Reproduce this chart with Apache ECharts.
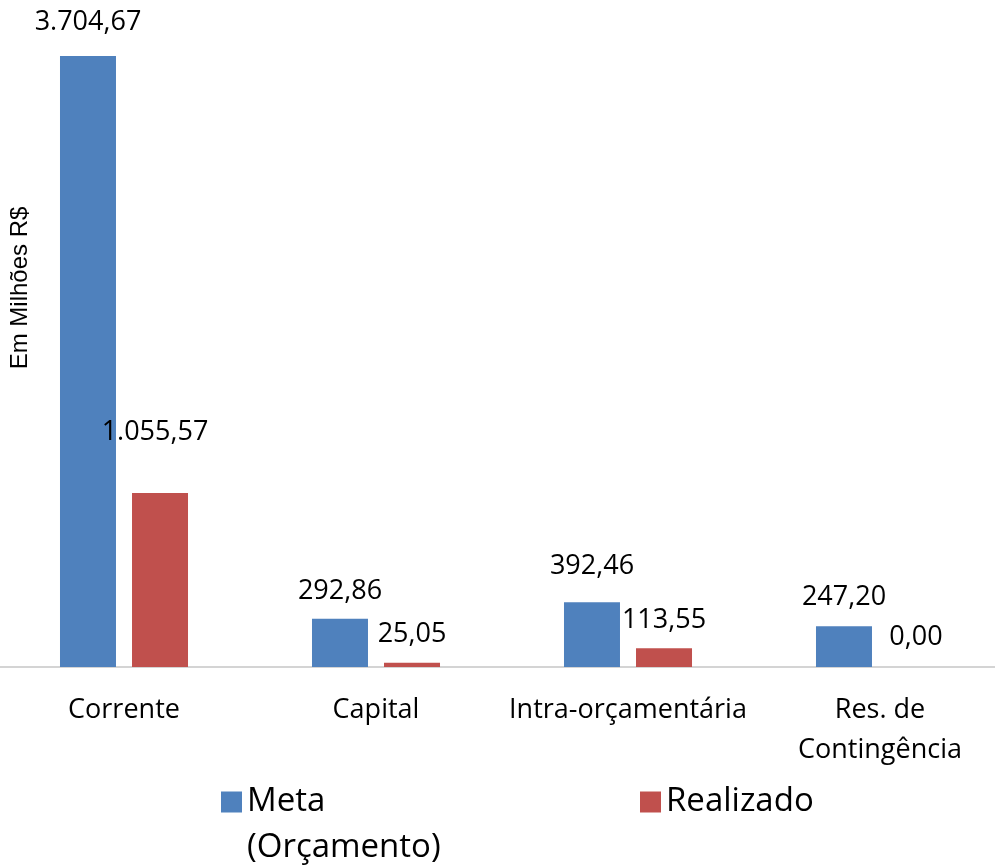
<!DOCTYPE html>
<html>
<head>
<meta charset="utf-8">
<script src="https://cdn.jsdelivr.net/npm/echarts@6/dist/echarts.min.js"></script>
<style>
  html, body { margin: 0; padding: 0; background: #fff; }
  #chart { width: 995px; height: 865px; }
</style>
</head>
<body>
<div id="chart"></div>
<script>
const categories = ['Corrente', 'Capital', 'Intra-orçamentária', 'Res. de\nContingência'];
const metaValues = [3704.67, 292.86, 392.46, 247.20];
const realizadoValues = [1055.57, 25.05, 113.55, 0.00];
const seriesNames = ['Meta\n(Orçamento)', 'Realizado'];

// distancia dos rotulos (o Excel deixou alguns deslocados)
const metaLabelDist = [20, 14, 22, 15];
const realLabelDist = [47, 15, 14, 16];

const fmt = v => v.toLocaleString('pt-BR', { minimumFractionDigits: 2, maximumFractionDigits: 2 });

const labelFont = { fontFamily: 'Open Sans', fontSize: 27, color: '#000' };

function buildData(values, dists, dx) {
  return values.map((v, i) => ({
    value: v,
    label: { distance: dists[i], offset: [dx[i] || 0, 0] }
  }));
}

// quadrado da legenda alinhado com a primeira linha do texto
const topSquare = 'path://M0,0h21v21h-21z M0,66.99h0.01v0.01h-0.01z';

const myChart = echarts.init(document.getElementById('chart'));

myChart.setOption({
  animation: false,
  backgroundColor: '#fff',
  grid: { left: -2, width: 1008, top: 56, bottom: 198, containLabel: false, outerBoundsMode: 'none' },
  xAxis: {
    type: 'category',
    data: categories,
    axisLine: { show: true, lineStyle: { color: '#d4d4d4', width: 2 } },
    axisTick: { show: false },
    axisLabel: {
      fontFamily: 'Open Sans', fontSize: 27, color: '#000',
      lineHeight: 40, margin: 23, interval: 0
    }
  },
  yAxis: {
    type: 'value',
    min: 0,
    max: 3704.67,
    show: false
  },
  legend: [
    {
      data: [{ name: seriesNames[0], icon: topSquare }],
      left: 221, top: 779,
      padding: 0,
      itemWidth: 21, itemHeight: 67,
      textStyle: { fontFamily: 'Open Sans', fontSize: 33, color: '#000', lineHeight: 46 }
    },
    {
      data: [seriesNames[1]],
      left: 640, top: 779,
      padding: 0,
      itemWidth: 21, itemHeight: 21,
      icon: 'rect',
      textStyle: { fontFamily: 'Open Sans', fontSize: 33, color: '#000', lineHeight: 46 }
    }
  ],
  graphic: [
    {
      type: 'text',
      x: 20, y: 288,
      rotation: Math.PI / 2,
      style: {
        text: 'Em Milhões R$',
        font: '24px "Liberation Sans"',
        fill: '#000',
        align: 'center',
        verticalAlign: 'middle'
      }
    }
  ],
  series: [
    {
      name: seriesNames[0],
      type: 'bar',
      barWidth: 56,
      barGap: '28.6%',
      itemStyle: { color: '#4f81bd' },
      label: Object.assign({ show: true, position: 'top', formatter: p => fmt(p.value) }, labelFont),
      data: buildData(metaValues, metaLabelDist, [])
    },
    {
      name: seriesNames[1],
      type: 'bar',
      barWidth: 56,
      itemStyle: { color: '#c0504d' },
      label: Object.assign({ show: true, position: 'top', formatter: p => fmt(p.value) }, labelFont),
      data: buildData(realizadoValues, realLabelDist, [-5])
    }
  ]
});
</script>
</body>
</html>
